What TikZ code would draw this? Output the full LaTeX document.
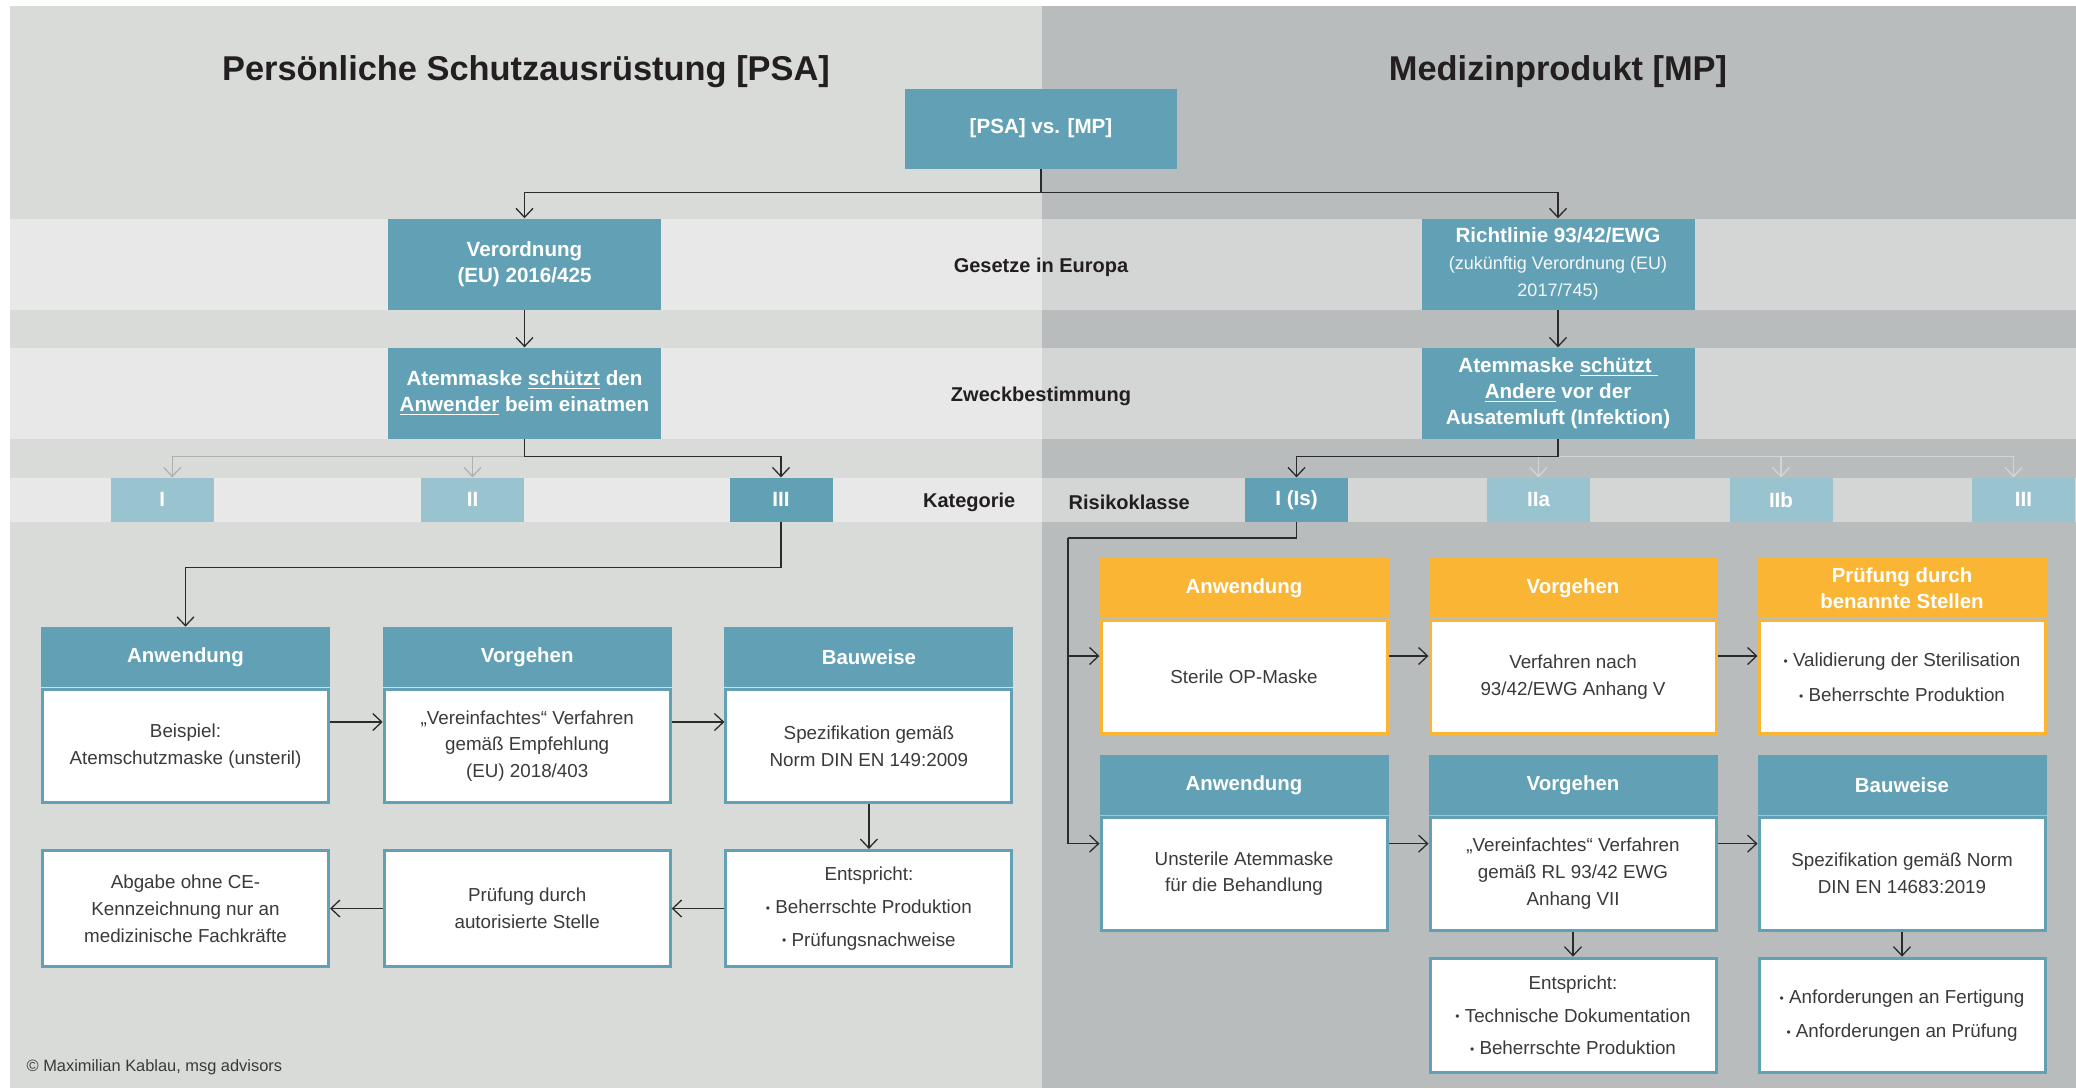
\documentclass[tikz,border=0pt]{standalone}
\usepackage{fontspec}
\setmainfont{Liberation Sans}
\usepackage{tikz}
\usetikzlibrary{arrows.meta,positioning}

\definecolor{psabg}{HTML}{D9DBD8}
\definecolor{psaband}{HTML}{E8E8E8}
\definecolor{mpbg}{HTML}{B8BCBD}
\definecolor{mpband}{HTML}{D4D6D5}
\definecolor{teal}{HTML}{62A1B5}
\definecolor{paleteal}{HTML}{9AC3D0}
\definecolor{mporange}{HTML}{FBB534}
\definecolor{inkgray}{HTML}{231F20}
\definecolor{bodygray}{HTML}{3A3A3A}
\definecolor{linegray}{HTML}{2B2B2B}
\definecolor{psagray}{HTML}{ACB0B0}
\definecolor{mpgray}{HTML}{D3D5D5}

\newcommand{\bulitem}{\raisebox{0.6pt}{\fontsize{6}{6}\selectfont\textbullet}\ }
\newcommand{\lawnote}{\mdseries\fontsize{9}{13.5}\selectfont\color{white!92!teal}}

\begin{document}
\begin{tikzpicture}[x=0.5pt, y=-0.5pt, node distance=1cm, line width=0.65pt,
  >={Straight Barb[length=4.5pt,width=8.5pt]}]
\tikzstyle{every node} = [inner sep=0pt, align=center]
\tikzstyle{bigtitle} = [font=\bfseries\fontsize{17.2}{20}\selectfont, text=inkgray]
\tikzstyle{rowlabel} = [font=\bfseries\fontsize{10}{12}\selectfont, text=inkgray]
\tikzstyle{lawbox} = [fill=teal, text=white, font=\bfseries\fontsize{10.3}{13}\selectfont,
  minimum width=136.5pt, minimum height=45.4pt]
\tikzstyle{catbox} = [fill=paleteal, text=white, font=\bfseries\fontsize{10.3}{12}\selectfont,
  minimum width=51.5pt, minimum height=21.85pt]
\tikzstyle{cardhead} = [fill=teal, text=white, font=\bfseries\fontsize{10.2}{13}\selectfont,
  minimum width=144.5pt, minimum height=30pt]
\tikzstyle{cardbody} = [draw=teal, line width=1.5pt, fill=white, text=bodygray,
  font=\fontsize{9.4}{13.4}\selectfont, minimum width=143pt, minimum height=56.5pt]
\tikzstyle{bullets} = [font=\fontsize{9.4}{16.4}\selectfont]
\tikzstyle{link} = [->, draw=linegray]

\useasboundingbox (0,0) rectangle (2076,1088);
\fill[white] (0,0) rectangle (2076,1088);
\fill[psabg] (10,6) rectangle (1042,1088);
\fill[mpbg] (1042,6) rectangle (2076,1088);
\foreach \top/\bot in {219/309.6, 347.8/439, 478/521.7} {
  \fill[psaband] (10,\top) rectangle (1042,\bot);
  \fill[mpband] (1042,\top) rectangle (2076,\bot);
}

% titles and top rows
\node[bigtitle] (psaTitle) at (526,72) {Persönliche Schutzausrüstung [PSA]};
\node[bigtitle] (mpTitle) at (1558,72) {Medizinprodukt [MP]};
\node[lawbox, minimum width=136pt, minimum height=40pt] (top) at (1041,128.5) {[PSA] vs. [MP]};
\node[lawbox] (psaLaw) at (524.5,264.3) {Verordnung\\(EU) 2016/425};
\node[lawbox, font=\bfseries\fontsize{10.3}{13.5}\selectfont] (mpLaw) at (1558,264.3)
  {Richtlinie 93/42/EWG\\\lawnote(zukünftig Verordnung (EU)\\\lawnote 2017/745)};
\node[lawbox] (psaPurp) at (524.5,393.4) {Atemmaske \underline{schützt} den\\\underline{Anwender} beim einatmen};
\node[lawbox] (mpPurp) at (1558,393.4) {Atemmaske \underline{schützt\ }\\\underline{Andere} vor der\\Ausatemluft (Infektion)};
\node[rowlabel] (laws) at (1041,267.5) {Gesetze in Europa};
\node[rowlabel] (purpose) at (1041,396) {Zweckbestimmung};
\node[rowlabel, anchor=east] (kat) at (1016,502.5) {Kategorie};
\node[rowlabel, anchor=west] (risk) at (1068,502.5) {Risikoklasse};

% categories / risk classes
\foreach \name/\x/\txt in {psaI/162.2/I, psaII/472.5/II, mpIIa/1538.5/IIa, mpIIb/1781/IIb, mpIII/2023.5/III}
  \node[catbox] (\name) at (\x,499.85) {\txt};
\node[catbox, fill=teal] (psaIII) at (781,499.85) {III};
\node[catbox, fill=teal] (mpI) at (1296.5,499.85) {I (Is)};

\draw[link] (top.south) -- ++(0,23) -| (psaLaw.north);
\draw[link] (top.south) -- ++(0,23) -| (mpLaw.north);
\draw[link] (psaLaw.south) -- (psaPurp.north);
\draw[link] (mpLaw.south) -- (mpPurp.north);
\draw[->, psagray] (psaPurp.south) -- ++(0,17) -| ([xshift=5pt]psaI.north);
\draw[->, psagray] (psaPurp.south) -- ++(0,17) -| (psaII.north);
\draw[link] (psaPurp.south) -- ++(0,17) -| (psaIII.north);
\foreach \to in {mpIIa, mpIIb}
  \draw[->, mpgray] (mpPurp.south) -- ++(0,17) -| (\to.north);
\draw[->, mpgray] (mpPurp.south) -- ++(0,17) -| ([xshift=-5pt]mpIII.north);
\draw[link] (mpPurp.south) -- ++(0,17) -| (mpI.north);

% PSA cards
\node[cardbody] (psaAnw) at (185.5,746) {Beispiel:\\Atemschutzmaske (unsteril)};
\node[cardhead, above=0pt of psaAnw] (psaAnwH) {Anwendung};
\node[cardbody, right=26.35pt of psaAnw] (psaVor) {„Vereinfachtes“ Verfahren\\gemäß Empfehlung\\(EU) 2018/403};
\node[cardhead, above=0pt of psaVor] (psaVorH) {Vorgehen};
\node[cardbody, right=26.35pt of psaVor] (psaBau) {Spezifikation gemäß\\Norm DIN EN 149:2009};
\node[cardhead, above=0pt of psaBau] (psaBauH) {Bauweise};
\node[cardbody, bullets, minimum height=58pt, below=22.5pt of psaBau] (psaEnt)
  {Entspricht:\\\bulitem Beherrschte Produktion\\\bulitem Prüfungsnachweise};
\node[cardbody, minimum height=58pt, left=26.35pt of psaEnt] (psaPruef) {Prüfung durch\\autorisierte Stelle};
\node[cardbody, minimum height=58pt, left=26.35pt of psaPruef] (psaAbg)
  {Abgabe ohne CE-\\Kennzeichnung nur an\\medizinische Fachkräfte};

\draw[link] (psaIII.south) -- ++(0,45) -| (psaAnwH.north);
\draw[link] ([yshift=12pt]psaAnw.east) -- ([yshift=12pt]psaVor.west);
\draw[link] ([yshift=12pt]psaVor.east) -- ([yshift=12pt]psaBau.west);
\draw[link] (psaBau.south) -- (psaEnt.north);
\draw[link] (psaEnt.west) -- (psaPruef.east);
\draw[link] (psaPruef.west) -- (psaAbg.east);

% MP cards
\node[cardbody, draw=mporange] (mpAnwA) at (1244,677) {Sterile OP-Maske};
\node[cardhead, fill=mporange, above=0pt of mpAnwA] (mpAnwAH) {Anwendung};
\node[cardbody, draw=mporange, right=20pt of mpAnwA] (mpVorA) {Verfahren nach\\93/42/EWG Anhang V};
\node[cardhead, fill=mporange, above=0pt of mpVorA] (mpVorAH) {Vorgehen};
\node[cardbody, bullets, draw=mporange, font=\fontsize{9.4}{17.5}\selectfont, right=20pt of mpVorA] (mpPruefA)
  {\bulitem Validierung der Sterilisation\\\bulitem Beherrschte Produktion};
\node[cardhead, fill=mporange, above=0pt of mpPruefA] (mpPruefAH) {Prüfung durch\\benannte Stellen};
\node[cardbody] (mpAnwB) at (1244,873.6) {Unsterile Atemmaske\\für die Behandlung};
\node[cardhead, above=0pt of mpAnwB] (mpAnwBH) {Anwendung};
\node[cardbody, right=20pt of mpAnwB] (mpVorB) {„Vereinfachtes“ Verfahren\\gemäß RL 93/42 EWG\\Anhang VII};
\node[cardhead, above=0pt of mpVorB] (mpVorBH) {Vorgehen};
\node[cardbody, right=20pt of mpVorB] (mpBauB) {Spezifikation gemäß Norm\\DIN EN 14683:2019};
\node[cardhead, above=0pt of mpBauB] (mpBauBH) {Bauweise};
\node[cardbody, bullets, minimum height=57.25pt, below=12.5pt of mpVorB] (mpEnt)
  {Entspricht:\\\bulitem Technische Dokumentation\\\bulitem Beherrschte Produktion};
\node[cardbody, bullets, font=\fontsize{9.4}{17}\selectfont, minimum height=57.25pt, below=12.5pt of mpBauB] (mpAnf)
  {\bulitem Anforderungen an Fertigung\\\bulitem Anforderungen an Prüfung};

\coordinate (mpSplit) at (1068,538);
\draw[draw=linegray] (mpI.south) |- (mpSplit);
\draw[link] (mpSplit) |- ([yshift=10.5pt]mpAnwA.west);
\draw[link] (mpSplit) |- ([yshift=15pt]mpAnwB.west);
\draw[link] ([yshift=10.5pt]mpAnwA.east) -- ([yshift=10.5pt]mpVorA.west);
\draw[link] ([yshift=10.5pt]mpVorA.east) -- ([yshift=10.5pt]mpPruefA.west);
\draw[link] ([yshift=15pt]mpAnwB.east) -- ([yshift=15pt]mpVorB.west);
\draw[link] ([yshift=15pt]mpVorB.east) -- ([yshift=15pt]mpBauB.west);
\draw[link] (mpVorB.south) -- (mpEnt.north);
\draw[link] (mpBauB.south) -- (mpAnf.north);

\node[anchor=west, font=\fontsize{8.2}{10}\selectfont, text=bodygray] (credit) at (26,1067)
  {© Maximilian Kablau, msg advisors};
\end{tikzpicture}
\end{document}
